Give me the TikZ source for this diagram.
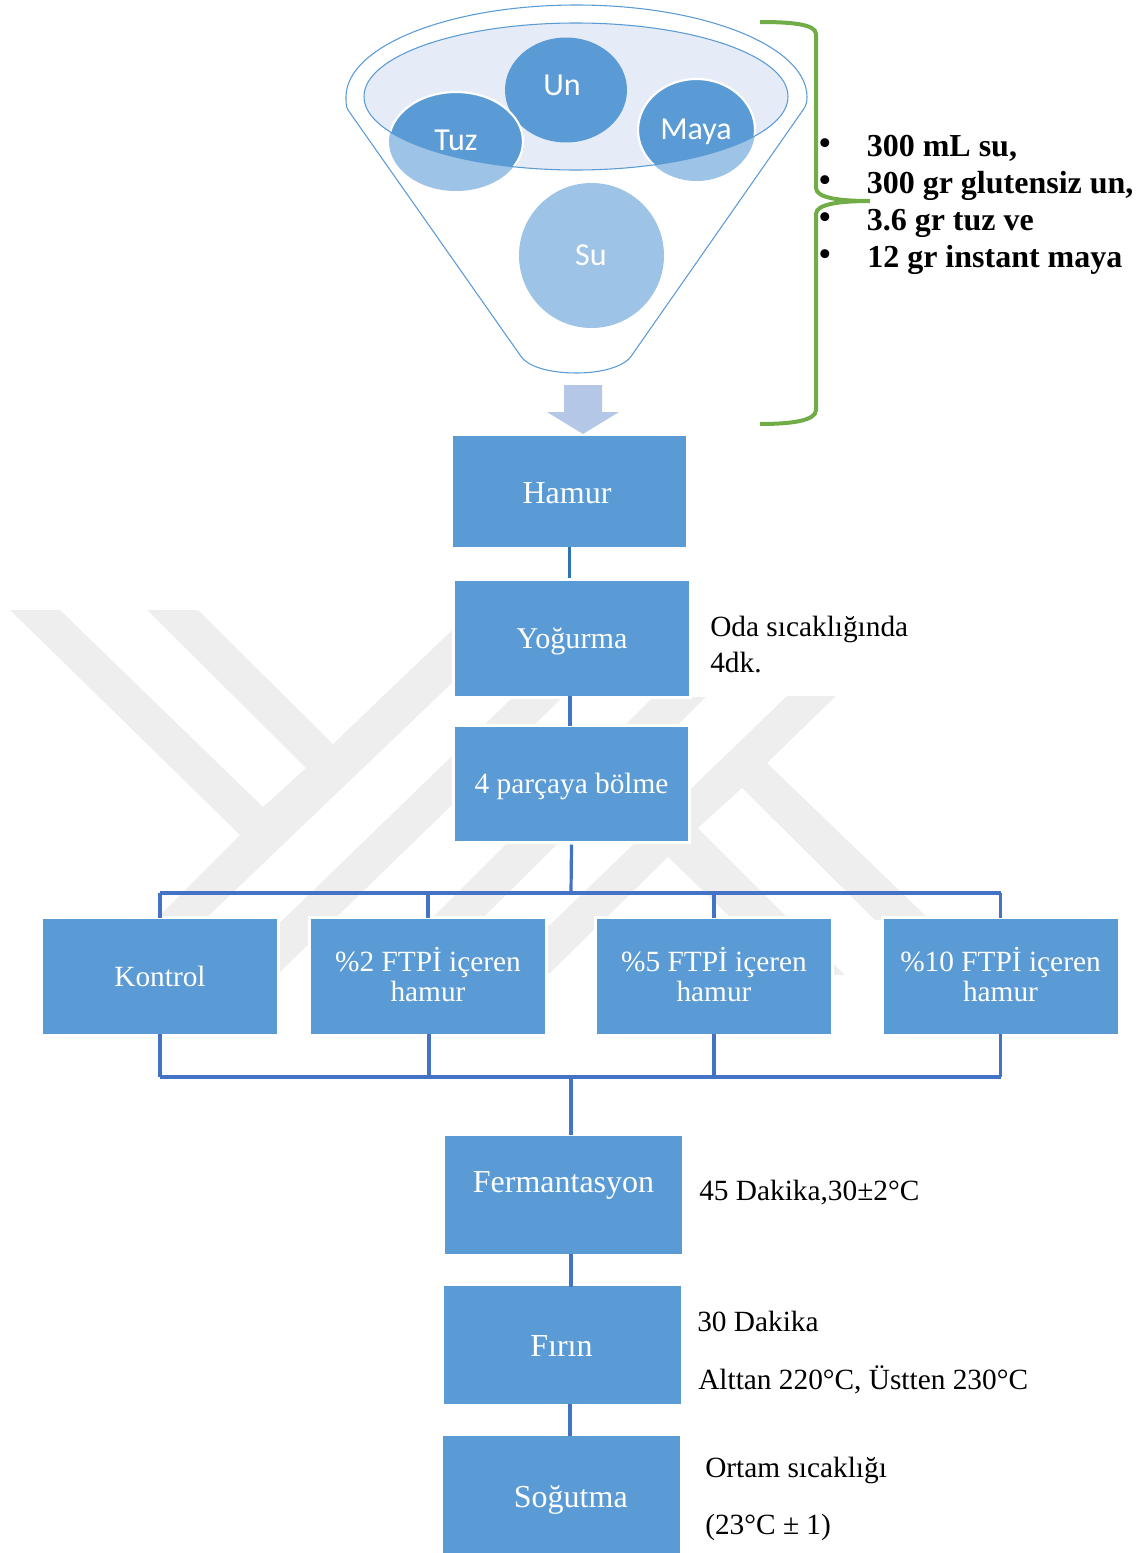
\documentclass[tikz,border=0pt]{standalone}
\usepackage{fontspec}
\setmainfont{Liberation Serif}
\newfontfamily\calfont{Carlito}
\usetikzlibrary{shapes.geometric}
\definecolor{boxblue}{HTML}{5B9BD5}
\definecolor{lightblue}{HTML}{9DC3E6}
\definecolor{paleblue}{HTML}{E6ECF7}
\definecolor{arrowblue}{HTML}{B4C7E7}
\definecolor{connblue}{HTML}{4472C4}
\definecolor{darkconn}{HTML}{2E75B6}
\definecolor{bracegreen}{HTML}{70AD47}
\definecolor{markgray}{HTML}{EEEEEE}
\newcommand{\shifted}[2]{\raisebox{#1}[0pt][0pt]{#2}}
\newcommand{\twolines}[3]{\raisebox{#1}[0pt][0pt]{\begin{tabular}[t]{@{}c@{}}#2\\#3\end{tabular}}}
\tikzset{
  pbox/.style={rectangle,fill=boxblue,draw=white,line width=2.25pt,inner sep=0pt,outer sep=0pt,
    text=white,align=center,font=\fontsize{22}{22.5}\selectfont},
  bigtext/.style={font=\fontsize{24}{26}\selectfont},
  conn/.style={draw=connblue,line width=2.4pt},
  note/.style={anchor=base west,inner sep=0pt,font=\fontsize{22}{26}\selectfont,text=black},
  boldnote/.style={anchor=base west,inner sep=0pt,font=\fontsize{24}{26}\bfseries\selectfont,text=black},
  dotnote/.style={anchor=center,inner sep=0pt,font=\fontsize{28}{30}\selectfont,text=black},
  funneltext/.style={inner sep=0pt,text=white,font=\calfont\fontsize{24}{26}\selectfont},
  funnelline/.style={draw=boxblue,line width=0.8pt}
}
\begin{document}
\begin{tikzpicture}[x=0.75pt,y=-0.75pt]
\useasboundingbox (0,0) rectangle (1147,1553);
% watermark
\fill[markgray] (10,610)--(60,610)--(263,807)--(306,768)--(147,610)--(198,610)--(333,744)--(470,613)--(520,618)--(178,945)--(130,945)--(240,835)--cycle;
\fill[markgray] (513,697)--(563,697)--(277,975)--(250,1000)--(200,1000)--cycle;
\fill[markgray] (653,697)--(706,697)--(415,985)--(365,985)--cycle;
\fill[markgray] (787,696)--(836,696)--(767,763)--(930,920)--(875,920)--(742,788)--(698,828)--(845,975)--(790,975)--(668,857)--(550,973)--(500,973)--cycle;
% funnel
\path[funnelline,fill=white] (348,110) .. controls (346,107) and (346,102) .. (346,97)
  arc[start angle=180,end angle=360,x radius=230.5,y radius=92]
  .. controls (807,102) and (806,106) .. (803,110) -- (632,355)
  .. controls (625,367) and (600,373) .. (577,373)
  .. controls (550,373) and (527,367) .. (520,355) -- cycle;
\fill[paleblue] (576,96.5) ellipse[x radius=212,y radius=73.5];
\fill[boxblue] (566,90) ellipse[x radius=61,y radius=52.5];
\fill[lightblue] (456,141.5) ellipse[x radius=67,y radius=49.5];
\fill[lightblue] (696.5,130) ellipse[x radius=58.5,y radius=51];
\begin{scope}
  \clip (576,96.5) ellipse[x radius=212,y radius=73.5];
  \path[fill=boxblue,draw=white,line width=1.6pt] (456,141.5) ellipse[x radius=67,y radius=49.5];
  \path[fill=boxblue,draw=white,line width=1.6pt] (696.5,130) ellipse[x radius=58.5,y radius=51];
\end{scope}
\draw[funnelline] (576,96.5) ellipse[x radius=212,y radius=73.5];
\fill[lightblue] (591.5,255.5) circle[radius=72.5];
\node[funneltext] (un) at (562,85) {Un};
\node[funneltext] (tuz) at (456,140.5) {Tuz};
\node[funneltext] (maya) at (696,131.5) {Maya};
\node[funneltext] (su) at (591,255) {Su};
% brace
\draw[bracegreen,line width=3pt] (760,22) .. controls (790,22) and (816,24) .. (816,34) -- (816,188)
  .. controls (816,198) and (840,201) .. (870,201) .. controls (840,201) and (816,204) .. (816,214)
  -- (816,410) .. controls (816,421) and (790,424) .. (760,424);
% boxes
\node[pbox,bigtext,minimum width=236*.75pt,minimum height=114*.75pt] (hamur) at (569.5,491.5) {\hspace*{-3.75pt}\shifted{-8.85pt}{Hamur}};
\node[pbox,minimum width=237*.75pt,minimum height=118*.75pt,font=\fontsize{22.6}{23}\selectfont] (yog) at (572,638.5) {\shifted{-7.15pt}{Yoğurma}};
\node[pbox,minimum width=236*.75pt,minimum height=117*.75pt] (bol) at (571.5,784) {\shifted{-6.75pt}{4 parçaya bölme}};
\node[pbox,minimum width=237*.75pt,minimum height=118*.75pt] (kon) at (160,976.5) {\shifted{-7.65pt}{Kontrol}};
\node[pbox,minimum width=237*.75pt,minimum height=118*.75pt] (f2) at (428,976.5) {\twolines{4.1pt}{\%2 FTPİ içeren}{hamur}};
\node[pbox,minimum width=237*.75pt,minimum height=118*.75pt] (f5) at (714,976.5) {\twolines{4.1pt}{\%5 FTPİ içeren}{hamur}};
\node[pbox,minimum width=237*.75pt,minimum height=118*.75pt] (f10) at (1000.5,976.5) {\twolines{4.1pt}{\%10 FTPİ içeren}{hamur}};
\node[pbox,bigtext,minimum width=240*.75pt,minimum height=121*.75pt] (fer) at (563.5,1195) {\shifted{1.75pt}{Fermantasyon}};
\node[pbox,bigtext,minimum width=240*.75pt,minimum height=121*.75pt] (fir) at (562.5,1345) {\hspace*{-1.5pt}\shifted{-8.25pt}{Fırın}};
\node[pbox,bigtext,minimum width=240*.75pt,minimum height=121*.75pt] (sog) at (561.5,1494.5) {\hspace*{14pt}\shifted{-9.9pt}{Soğutma}};
% down arrow
\fill[arrowblue] (564,385)--(602,385)--(602,412)--(619,412)--(583,434)--(547,412)--(564,412)--cycle;
% connectors
\coordinate (busT) at (571,893);
\coordinate (busB) at (571,1077);
\draw[conn,draw=darkconn] ([yshift=1pt]hamur.south) -- ([yshift=1.5pt]hamur.south |- yog.north);
\draw[conn] ([xshift=-1.5pt,yshift=1pt]yog.south) -- ([xshift=-1.5pt,yshift=-.5pt]yog.south |- bol.north);
\draw[conn] ([yshift=-1.5pt]bol.south) -- (busT);
\draw[conn] (kon.north |- busT) -- (f10.north |- busT);
\draw[conn] (busT -| kon.north) -- (kon.north);
\draw[conn] (busT -| f2.north) -- (f2.north);
\draw[conn] (busT -| f5.north) -- (f5.north);
\draw[conn] (busT -| f10.north) -- (f10.north);
\draw[conn] (kon.south |- busB) -- (f10.south |- busB);
\draw[conn] ([yshift=1.5pt]kon.south) -- (kon.south |- busB);
\draw[conn] ([xshift=.75pt,yshift=1.5pt]f2.south) -- ([xshift=.75pt]f2.south |- busB);
\draw[conn] ([yshift=1.5pt]f5.south) -- (f5.south |- busB);
\draw[conn] ([yshift=1.5pt]f10.south) -- (f10.south |- busB);
\draw[conn] (busB) -- (busB |- fer.north);
\draw[conn] ([xshift=5.6pt,yshift=1.5pt]fer.south) -- ([xshift=5.6pt,yshift=-1.5pt]fer.south |- fir.north);
\draw[conn] ([xshift=5.6pt,yshift=1.5pt]fir.south) -- ([xshift=5.6pt,yshift=-1.5pt]fir.south |- sog.north);
% side notes
\node[note] (n1) at (710,636) {Oda sıcaklığında};
\node[note] (n2) at (710,672.5) {4dk.};
\node[note] (n3) at (699,1200) {45 Dakika,30±2°C};
\node[note] (n4) at (697,1331) {30 Dakika};
\node[note] (n5) at (698,1389) {Alttan 220°C, Üstten 230°C};
\node[note] (n6) at (705,1477) {Ortam sıcaklığı};
\node[note] (n7) at (705,1534) {(23°C ± 1)};
% ingredient list
\node[dotnote] (d1) at (825,147) {•};
\node[dotnote] (d2) at (825,184) {•};
\node[dotnote] (d3) at (825,221) {•};
\node[dotnote] (d4) at (825,258) {•};
\node[boldnote] (b1) at (866.5,156) {300 mL su,};
\node[boldnote] (b2) at (866.5,193) {300 gr glutensiz un,};
\node[boldnote] (b3) at (866.5,230) {3.6 gr tuz ve};
\node[boldnote] (b4) at (867,267) {12 gr instant maya};
\end{tikzpicture}
\end{document}
